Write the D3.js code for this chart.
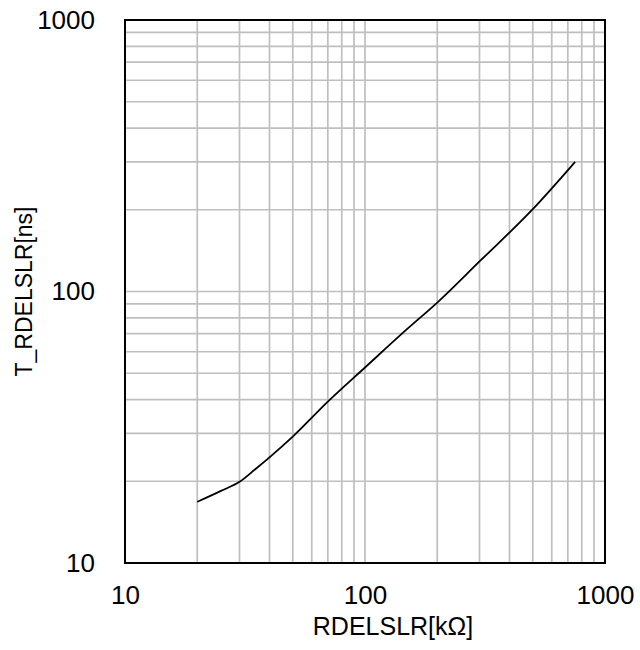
<!DOCTYPE html>
<html><head><meta charset="utf-8">
<script src="https://cdn.jsdelivr.net/npm/d3@7"></script>
<style>body{margin:0;background:#fff;} text{font-family:"Liberation Sans",Arial,sans-serif;fill:#000;}</style>
</head><body>
<svg id="chart" width="640" height="650"></svg>
<script>
const xValues = [20, 25, 30, 35, 40, 50, 70, 100, 150, 200, 300, 500, 750];
const yValues = [16.8, 18.4, 19.9, 22.2, 24.5, 29.2, 39.3, 52.5, 72.8, 91, 129, 201, 300];
const xTicks = [10, 100, 1000];
const yTicks = [10, 100, 1000];
const xLabel = "RDELSLR[kΩ]";
const yLabel = "T_RDELSLR[ns]";

const svg = d3.select("#chart");
const m = {left:125, right:605, top:20, bottom:563};
const x = d3.scaleLog().domain([10,1000]).range([m.left, m.right]);
const y = d3.scaleLog().domain([10,1000]).range([m.bottom, m.top]);

const grid = [];
[10,100].forEach(d => { for (let k=2;k<=9;k++) grid.push(d*k); });
grid.push(100);

const g = svg.append("g");
g.selectAll("line.gx").data(grid).join("line")
  .attr("x1", d=>x(d)).attr("x2", d=>x(d)).attr("y1", m.top).attr("y2", m.bottom)
  .attr("stroke", "#bfbfbf").attr("stroke-width", 1.7);
g.selectAll("line.gy").data(grid).join("line")
  .attr("y1", d=>y(d)).attr("y2", d=>y(d)).attr("x1", m.left).attr("x2", m.right)
  .attr("stroke", "#bfbfbf").attr("stroke-width", 1.7);

const data = xValues.map((v,i)=>[v, yValues[i]]);
svg.append("path").datum(data)
  .attr("fill","none").attr("stroke","#000").attr("stroke-width",1.8)
  .attr("d", d3.line().x(d=>x(d[0])).y(d=>y(d[1])).curve(d3.curveMonotoneX));

svg.append("rect").attr("x", m.left).attr("y", m.top)
  .attr("width", m.right-m.left).attr("height", m.bottom-m.top)
  .attr("fill","none").attr("stroke","#000").attr("stroke-width",2);

const xAxis = svg.append("g").attr("transform", `translate(0,${m.bottom})`)
  .call(d3.axisBottom(x).tickValues(xTicks).tickFormat(d3.format("d")).tickSize(0).tickPadding(23));
const yAxis = svg.append("g").attr("transform", `translate(${m.left},0)`)
  .call(d3.axisLeft(y).tickValues(yTicks).tickFormat(d3.format("d")).tickSize(0).tickPadding(30));
[xAxis,yAxis].forEach(a=>{
  a.select(".domain").remove();
  a.selectAll("text").attr("font-size", 26).attr("font-family", '"Liberation Sans",Arial,sans-serif').attr("fill","#000");
});

svg.append("text").attr("x", 393).attr("y", 635).attr("text-anchor","middle")
  .attr("font-size", 25).text(xLabel);
svg.append("text").attr("transform", `translate(32,${(m.top+m.bottom)/2}) rotate(-90)`)
  .attr("text-anchor","middle").attr("font-size", 23).text(yLabel);
</script>
</body></html>
